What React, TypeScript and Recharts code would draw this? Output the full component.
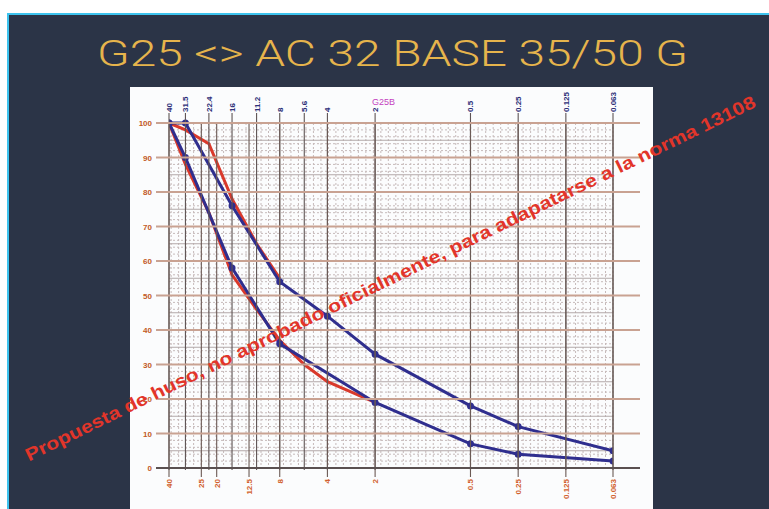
import React from 'react';
import {LineChart, Line, XAxis, YAxis, CartesianGrid} from 'recharts';

// sieve sizes (mm) printed on the top and bottom of the grading paper
const topSieves = [40, 31.5, 22.4, 16, 11.2, 8, 5.6, 4, 2, 0.5, 0.25, 0.125, 0.063];
const bottomSieves = [40, 25, 20, 12.5, 8, 4, 2, 0.5, 0.25, 0.125, 0.063];
const passTicks = [0, 10, 20, 30, 40, 50, 60, 70, 80, 90, 100];

// G25 envelope (blue)
const upperSizes = [40, 31.5, 16, 8, 4, 2, 0.5, 0.25, 0.063];
const upperPass = [100, 100, 76, 54, 44, 33, 18, 12, 5];
const lowerSizes = [40, 31.5, 16, 8, 2, 0.5, 0.25, 0.063];
const lowerPass = [100, 90, 58, 36, 19, 7, 4, 2];

// AC 32 BASE proposal (red)
const redUpperSizes = [40, 31.5, 22.4, 16, 11.2, 8];
const redUpperPass = [100, 98, 94, 78, 65, 55];
const redLowerSizes = [40, 31.5, 22.4, 16, 11.2, 8, 5.6, 4, 2];
const redLowerPass = [100, 88, 74, 56, 46, 37, 30, 25, 19];

const toRows = (sizes: number[], pass: number[]) =>
  sizes.map((size, i) => ({size, pass: pass[i]}));

// paper grid (decoration only)
const minorPass = Array.from({length: 51}, (_, i) => i * 2).filter(v => v % 10 !== 0);
const halfPass = [5, 15, 25, 35, 45, 55, 65, 75, 85, 95];
const minorSizes: number[] = [];
for (let v = 0.063; v < 40; v *= 1.115) minorSizes.push(v);

const fmt = (v: number) => String(v);

const TopTick = (props: any) => {
  const {x, payload} = props;
  return (
    <g>
      <line x1={x} x2={x} y1={113} y2={470} stroke="#5e5454" strokeWidth={1.1} />
      <text
        transform={`translate(${x + 3},${112}) rotate(-90)`}
        fontSize={8}
        fontWeight="bold"
        fill="#2c2f78"
        fontFamily="Liberation Sans, Arial, sans-serif"
      >
        {fmt(payload.value)}
      </text>
    </g>
  );
};

const BottomTick = (props: any) => {
  const {x, payload} = props;
  return (
    <g>
      <line x1={x} x2={x} y1={123} y2={477} stroke="#6b5a55" strokeWidth={1.1} />
      <text
        transform={`translate(${x + 3},${479}) rotate(-90)`}
        textAnchor="end"
        fontSize={8}
        fontWeight="bold"
        fill="#d2622e"
        fontFamily="Liberation Sans, Arial, sans-serif"
      >
        {fmt(payload.value)}
      </text>
    </g>
  );
};

const PassTick = (props: any) => {
  const {y, payload} = props;
  const zero = payload.value === 0;
  return (
    <g>
      <line
        x1={156}
        x2={640}
        y1={y}
        y2={y}
        stroke={zero ? '#5a5050' : '#c9a292'}
        strokeWidth={zero ? 2 : 1.8}
      />
      <text
        x={152}
        y={y + 3}
        textAnchor="end"
        fontSize={8}
        fontWeight="bold"
        fill="#c25a26"
        fontFamily="Liberation Sans, Arial, sans-serif"
      >
        {payload.value}
      </text>
    </g>
  );
};

export default function App() {
  return (
    <div style={{position: 'absolute', left: 0, top: 0, width: 769, height: 509, background: '#fff', overflow: 'hidden'}}>
      <svg width={769} height={509} style={{position: 'absolute', left: 0, top: 0}}>
        <rect x={7} y={13} width={762} height={496} fill="#3dc3ee" />
        <rect x={9} y={15} width={760} height={494} fill="#2b3447" />
        <rect x={130} y={87} width={523} height={422} fill="#fbfcfd" />
      </svg>
      <div style={{position: 'absolute', left: 0, top: 0}}>
        <LineChart
          width={769}
          height={509}
          margin={{top: 93, right: 156, bottom: 11, left: 129}}
        >
          <CartesianGrid
            xAxisId="bottom"
            horizontalValues={minorPass}
            verticalValues={minorSizes}
            stroke="#c6baba"
            strokeDasharray="2 2"
            strokeWidth={1}
          />
          <CartesianGrid
            xAxisId="bottom"
            vertical={false}
            horizontalValues={halfPass}
            stroke="#b3a9a9"
            strokeWidth={1}
          />
          <XAxis
            xAxisId="top"
            orientation="top"
            type="number"
            dataKey="size"
            scale="log"
            domain={[0.063, 40]}
            reversed
            allowDataOverflow
            ticks={topSieves}
            interval={0}
            height={30}
            axisLine={false}
            tickLine={false}
            tick={TopTick}
          />
          <XAxis
            xAxisId="bottom"
            orientation="bottom"
            type="number"
            dataKey="size"
            scale="log"
            domain={[0.063, 40]}
            reversed
            allowDataOverflow
            ticks={bottomSieves}
            interval={0}
            height={30}
            axisLine={false}
            tickLine={false}
            tick={BottomTick}
          />
          <YAxis
            type="number"
            domain={[0, 100]}
            ticks={passTicks}
            interval={0}
            width={40}
            axisLine={false}
            tickLine={false}
            tick={PassTick}
          />
          <Line
            xAxisId="bottom"
            data={toRows(redUpperSizes, redUpperPass)}
            dataKey="pass"
            stroke="#d9392b"
            strokeWidth={3}
            dot={false}
            isAnimationActive={false}
          />
          <Line
            xAxisId="bottom"
            data={toRows(redLowerSizes, redLowerPass)}
            dataKey="pass"
            stroke="#d9392b"
            strokeWidth={3}
            dot={false}
            isAnimationActive={false}
          />
          <Line
            xAxisId="bottom"
            data={toRows(upperSizes, upperPass)}
            dataKey="pass"
            stroke="#2f2e8e"
            strokeWidth={3}
            dot={{r: 2, fill: '#2f2e8e', stroke: '#2f2e8e'}}
            isAnimationActive={false}
          />
          <Line
            xAxisId="bottom"
            data={toRows(lowerSizes, lowerPass)}
            dataKey="pass"
            stroke="#2f2e8e"
            strokeWidth={3}
            dot={{r: 2, fill: '#2f2e8e', stroke: '#2f2e8e'}}
            isAnimationActive={false}
          />
        </LineChart>
      </div>
      <svg width={769} height={509} style={{position: 'absolute', left: 0, top: 0, pointerEvents: 'none'}}>
        <text
          x={97}
          y={66}
          fontSize={37}
          fontWeight={300}
          fill="#e6b44c"
          textLength={591}
          lengthAdjust="spacingAndGlyphs"
          fontFamily="Roboto, Liberation Sans, Arial, sans-serif"
        >
          {'G25 <> AC 32 BASE 35/50 G'}
        </text>
        <text x={372} y={105} fontSize={9} fill="#c43fbf" fontFamily="Liberation Sans, Arial, sans-serif">
          G25B
        </text>
        <text
          x={393}
          y={284}
          transform="rotate(-26 393 284)"
          textAnchor="middle"
          fontSize={18}
          fontWeight="bold"
          fill="#e2352a"
          textLength={810}
          lengthAdjust="spacingAndGlyphs"
          fontFamily="Liberation Sans, Arial, sans-serif"
        >
          Propuesta de huso, no aprobado oficialmente, para adapatarse a la norma 13108
        </text>
      </svg>
    </div>
  );
}
